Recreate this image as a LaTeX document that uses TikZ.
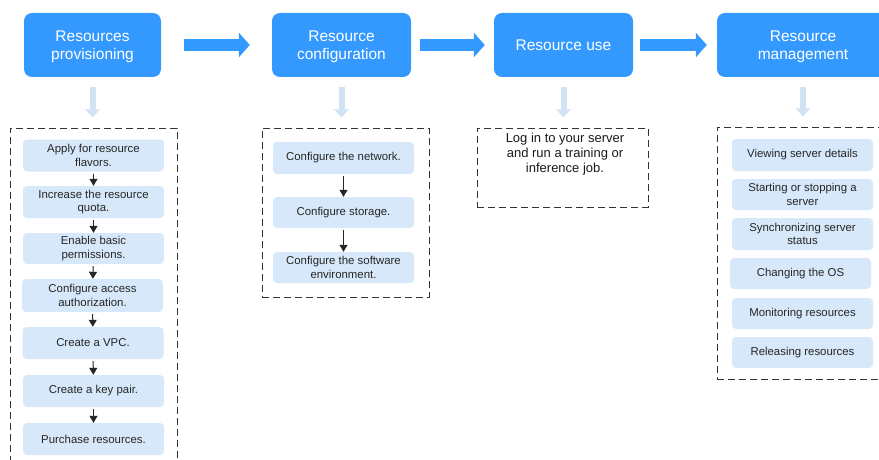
\documentclass[tikz,border=0pt]{standalone}
\usepackage{fontspec}
\setmainfont{Liberation Sans}
\usetikzlibrary{arrows.meta}
\definecolor{stageblue}{RGB}{51,153,255}
\definecolor{stepfill}{RGB}{214,232,250}
\definecolor{hintblue}{RGB}{208,226,244}

\begin{document}
\begin{tikzpicture}[x=1pt,y=-1pt]
    \tikzstyle{stage}=[fill=stageblue,rounded corners=8pt,text=white,
                       minimum width=139pt,minimum height=64pt,align=center,
                       font=\fontsize{15.5}{18}\selectfont,inner sep=0pt]
    \tikzstyle{stepbox}=[fill=stepfill,rounded corners=4pt,minimum width=141pt,
                         minimum height=32pt,align=center,text=black!85,
                         font=\fontsize{11.4}{13.5}\selectfont,inner sep=0pt]
    \tikzstyle{group}=[draw=black!80,dash pattern=on 7pt off 4pt,
                       line width=1pt,inner sep=0pt]
    \tikzstyle{bigarrow}=[stageblue,line width=12pt,
                          -{Triangle[width=24pt,length=11pt]}]
    \tikzstyle{hintarrow}=[hintblue,line width=6pt,shorten <=10pt,shorten >=10pt,
                           -{Triangle[width=14pt,length=8pt]}]
    \tikzstyle{steparrow}=[black!85,line width=1pt,shorten <=2pt,
                           -{Triangle[width=8pt,length=7pt]}]

    \useasboundingbox (0,0) rectangle (879,460);
    \clip (0,0) rectangle (879,460);

      \node[stage,minimum width=137pt,text depth=-2pt] (s1) at (92.5,45) {Resources\\provisioning};
      \node[stage,text depth=-2pt] (s2) at (341.5,45) {Resource\\configuration};
      \node[stage] (s3) at (563.5,45) {Resource use};
      \node[stage,minimum width=172pt,text depth=-2pt] (s4) at (803,45) {Resource\\management};

      \draw[bigarrow,shorten <=23pt,shorten >=22pt] (s1) -- (s2);
      \draw[bigarrow,shorten <=9pt,shorten >=9pt] (s2) -- (s3);
      \draw[bigarrow,shorten <=7pt,shorten >=10pt] (s3) -- (s4);

      \node[group,minimum width=167pt,minimum height=350pt] (g1) at (93.5,303) {};
      \node[group,minimum width=167pt,minimum height=169pt] (g2) at (345.5,212.5) {};
      \node[group,minimum width=171pt,minimum height=79pt] (g3) at (562.5,167.5) {};
      \node[group,minimum width=178pt,minimum height=252pt] (g4) at (806,253) {};

      \draw[hintarrow] (s1) -- (s1 |- g1.north);
      \draw[hintarrow] (s2) -- (s2 |- g2.north);
      \draw[hintarrow] (s3) -- (s3 |- g3.north);
      \draw[hintarrow] (s4) -- (s4 |- g4.north);

      \node[stepbox] (a1) at (93.5,155.5) {Apply for resource\\flavors.};
      \node[stepbox] (a2) at (93.5,202) {Increase the resource\\quota.};
      \node[stepbox,minimum height=31pt] (a3) at (93.5,248.5) {Enable basic\\permissions.};
      \node[stepbox,minimum height=33pt] (a4) at (92.5,295.5) {Configure access\\authorization.};
      \node[stepbox] (a5) at (93,343) {Create a VPC.};
      \node[stepbox] (a6) at (93.5,391) {Create a key pair.};
      \node[stepbox] (a7) at (93.5,439) {Purchase resources.};

      \draw[steparrow] (a1) -- (a2);
      \draw[steparrow] (a2) -- (a3);
      \draw[steparrow] (a3) -- (a4);
      \draw[steparrow] (a4) -- (a5);
      \draw[steparrow] (a5) -- (a6);
      \draw[steparrow] (a6) -- (a7);

      \node[stepbox] (b1) at (343.5,158) {Configure the network.};
      \node[stepbox,minimum height=31pt] (b2) at (343.5,212.5) {Configure storage.};
      \node[stepbox,minimum height=31pt] (b3) at (343.5,267.5) {Configure the software\\environment.};

      \draw[steparrow] (b1) -- (b2);
      \draw[steparrow] (b2) -- (b3);

      \node[align=center,anchor=north,inner sep=0pt,text=black!90,
            font=\fontsize{13}{15}\selectfont] (u1) at (565,132.5)
            {Log in to your server\\and run a training or\\inference job.};

      \node[stepbox] (d1) at (802.5,155) {Viewing server details};
      \node[stepbox,minimum height=31pt] (d2) at (802.5,194.5) {Starting or stopping a\\server};
      \node[stepbox] (d3) at (802.5,234) {Synchronizing server\\status};
      \node[stepbox,minimum height=31pt] (d4) at (800.5,273.5) {Changing the OS};
      \node[stepbox,minimum height=31pt] (d5) at (802.5,313.5) {Monitoring resources};
      \node[stepbox,minimum height=31pt] (d6) at (802.5,352.5) {Releasing resources};
    \end{tikzpicture}
\end{document}
